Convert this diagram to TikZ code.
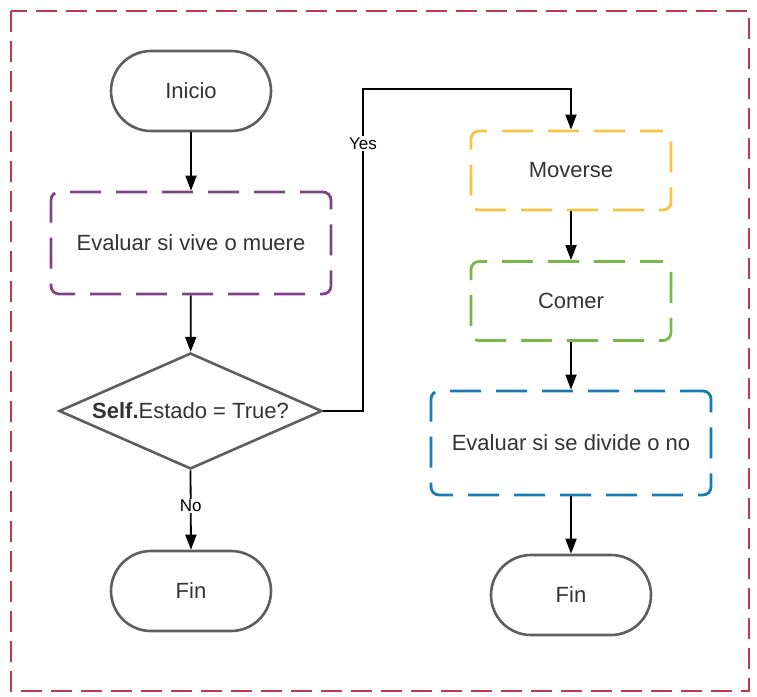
\documentclass[tikz,border=0pt]{standalone}
\usepackage{fontspec}
\setmainfont{Liberation Sans}
\usetikzlibrary{shapes.geometric,arrows.meta}
\definecolor{bordred}{HTML}{C0394A}
\definecolor{lgray}{HTML}{5E5E5E}
\definecolor{txtgray}{HTML}{333333}
\definecolor{lpurple}{HTML}{834187}
\definecolor{lyellow}{HTML}{F7C342}
\definecolor{lgreen}{HTML}{7AB648}
\definecolor{lblue}{HTML}{1A7AB5}
\begin{document}
\begin{tikzpicture}[x=1pt,y=-1pt,
  every node/.style={font=\fontsize{22}{26}\selectfont, text=txtgray},
  term/.style={draw=lgray, line width=2.6pt, rectangle, rounded corners=40pt, minimum width=160pt, minimum height=80pt, inner sep=0pt},
  proc/.style={line width=2.8pt, rectangle, rounded corners=8pt, dash pattern=on 31pt off 15pt, dash phase=8pt, inner sep=0pt},
  decis/.style={draw=lgray, line width=2.6pt, diamond, aspect=2.25, minimum width=263pt, minimum height=116pt, inner sep=0pt},
  conn/.style={line width=1.8pt, -{Triangle[length=15pt,width=11pt]}},
  lab/.style={fill=white, inner sep=1.5pt, font=\fontsize{17}{20}\selectfont, text=black}
]
\useasboundingbox (0,0) rectangle (757,696);
\draw[bordred, line width=2pt, dash pattern=on 21pt off 9pt] (11,11) rectangle (749,691);

\node[term] (inicio) at (191,91) {Inicio};
\node[proc, draw=lpurple, minimum width=280pt, minimum height=102pt] (eval1) at (191,243) {Evaluar si vive o muere};
\node[decis] (dec) at (190.5,411) {\textbf{Self.}Estado = True?};
\node[term] (fin1) at (191,591) {Fin};

\node[proc, draw=lyellow, minimum width=200pt, minimum height=79pt] (mov) at (571,170.5) {Moverse};
\node[proc, draw=lgreen, minimum width=200pt, minimum height=79pt] (comer) at (571,301) {Comer};
\node[proc, draw=lblue, minimum width=280pt, minimum height=104pt] (eval2) at (571,443) {Evaluar si se divide o no};
\node[term] (fin2) at (571,595) {Fin};

\coordinate (c1) at (363,411);
\coordinate (c2) at (363,89);

\draw[conn] (inicio) -- (eval1);
\draw[conn] (eval1) -- (dec);
\draw[conn] (dec.south) -- node[lab, pos=0.45] {No} (fin1.north);
\draw[conn] (dec.east) -- (c1) -- node[lab, pos=0.83] {Yes} (c2) -| (mov.north);
\draw[conn] (mov) -- (comer);
\draw[conn] (comer) -- (eval2);
\draw[conn] (eval2) -- (fin2);
\end{tikzpicture}
\end{document}
